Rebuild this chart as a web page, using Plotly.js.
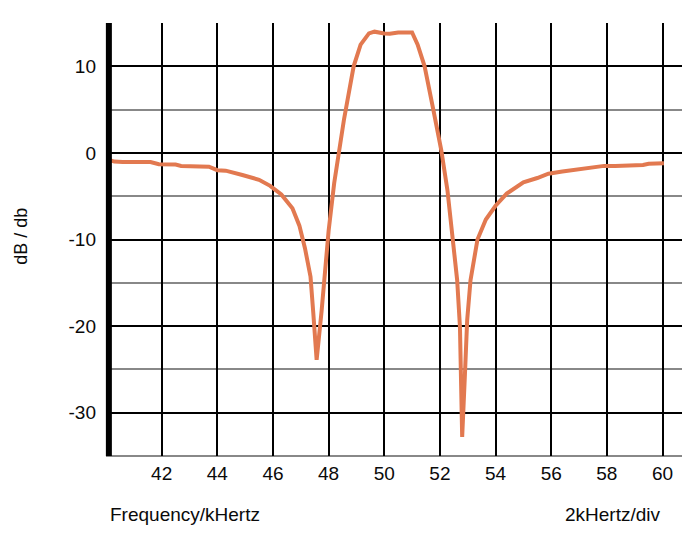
<!DOCTYPE html>
<html>
<head>
<meta charset="utf-8">
<script src="https://cdn.plot.ly/plotly-3.0.1.min.js"></script>
<style>
  html, body { margin: 0; padding: 0; background: #fff; }
  #plot { width: 700px; height: 550px; }
</style>
</head>
<body>
<div id="plot"></div>
<script>
// frequency response (kHz, dB)
var freqKHz = [40.0, 40.3, 40.6, 41.0, 41.6, 41.9, 42.5, 42.7, 43.2, 43.7,
               44.0, 44.3, 44.9, 45.5, 45.9, 46.3, 46.7, 46.95, 47.15, 47.35,
               47.45, 47.57, 47.75, 47.9, 48.0, 48.2, 48.55, 48.9, 49.15, 49.45,
               49.65, 50.0, 50.2, 50.5, 51.0, 51.2, 51.45, 51.75, 52.05, 52.27,
               52.45, 52.62, 52.72, 52.76, 52.8, 52.9, 52.98, 53.1, 53.35, 53.65,
               54.0, 54.4, 55.0, 55.5, 55.9, 56.4, 57.1, 57.9, 58.3, 59.3,
               59.5, 60.05];
var gainDb = [-0.7, -1.0, -1.05, -1.05, -1.05, -1.3, -1.35, -1.5, -1.55, -1.6,
              -2.0, -2.05, -2.55, -3.1, -3.8, -4.8, -6.4, -8.4, -11.0, -14.3,
              -18.5, -23.9, -18.2, -12.0, -9.0, -3.5, 3.8, 10.0, 12.5, 13.8,
              14.0, 13.8, 13.75, 13.9, 13.9, 12.5, 10.0, 5.2, 0.3, -4.3,
              -10.0, -14.7, -20.1, -25.5, -32.8, -25.5, -19.3, -14.7, -10.0, -7.7,
              -6.1, -4.7, -3.4, -2.9, -2.4, -2.15, -1.8, -1.5, -1.5, -1.4,
              -1.25, -1.2];

var xTicks = [42, 44, 46, 48, 50, 52, 54, 56, 58, 60];
var yTicks = [-30, -20, -10, 0, 10];
var yTickText = ['-30', '-20', '-10', '0', '10'];   // plain hyphen like the original
var yMinorTicks = [-35, -25, -15, -5, 5];

var fontFam = 'Liberation Sans, Arial, sans-serif';

var traces = [{
  x: freqKHz,
  y: gainDb,
  type: 'scatter',
  mode: 'lines',
  line: {color: 'rgb(226,121,80)', width: 4},
  hoverinfo: 'x+y'
}];

var layout = {
  width: 700,
  height: 550,
  margin: {l: 106, r: 18, t: 23, b: 94, pad: 0},
  paper_bgcolor: '#ffffff',
  plot_bgcolor: '#ffffff',
  showlegend: false,
  font: {family: fontFam, size: 19, color: '#0a0a0a'},
  xaxis: {
    range: [40, 60.7],
    tickmode: 'array',
    tickvals: xTicks,
    ticks: '',
    showgrid: true,
    gridcolor: '#000000',
    gridwidth: 2,
    zeroline: false,
    showline: false,
    ticklabelstandoff: 4,
    tickfont: {size: 19, color: '#0a0a0a'}
  },
  yaxis: {
    range: [-35, 15],
    tickmode: 'array',
    tickvals: yTicks,
    ticktext: yTickText,
    ticks: '',
    showgrid: true,
    gridcolor: '#000000',
    gridwidth: 2,
    minor: {
      tickmode: 'array',
      tickvals: yMinorTicks,
      showgrid: true,
      gridcolor: '#888888',
      gridwidth: 2
    },
    zeroline: false,
    showline: false,
    ticklabelstandoff: 9,
    tickfont: {size: 19, color: '#0a0a0a'}
  },
  shapes: [
    // grey line along the bottom edge (-35)
    {type: 'line', xref: 'paper', yref: 'paper', x0: 0, x1: 1, y0: 0, y1: 0,
     line: {color: '#888888', width: 2}, layer: 'below'},
    // heavy left axis bar
    {type: 'line', xref: 'paper', yref: 'paper', x0: 0.005, x1: 0.005, y0: 0, y1: 1,
     line: {color: '#000000', width: 6}, layer: 'above'}
  ],
  annotations: [
    {text: 'dB / db', xref: 'paper', yref: 'paper', x: -0.148, y: 0.508,
     xanchor: 'center', yanchor: 'middle', textangle: -90, showarrow: false,
     font: {size: 18, color: '#0a0a0a'}},
    {text: 'Frequency/kHertz', xref: 'paper', yref: 'paper', x: 0.003, y: -0.136,
     xanchor: 'left', yanchor: 'middle', showarrow: false,
     font: {size: 19, color: '#0a0a0a'}},
    {text: '2kHertz/div', xref: 'paper', yref: 'paper', x: 0.967, y: -0.136,
     xanchor: 'right', yanchor: 'middle', showarrow: false,
     font: {size: 19, color: '#0a0a0a'}}
  ]
};

var config = {staticPlot: true, displayModeBar: false};

Plotly.newPlot('plot', traces, layout, config);
</script>
</body>
</html>
